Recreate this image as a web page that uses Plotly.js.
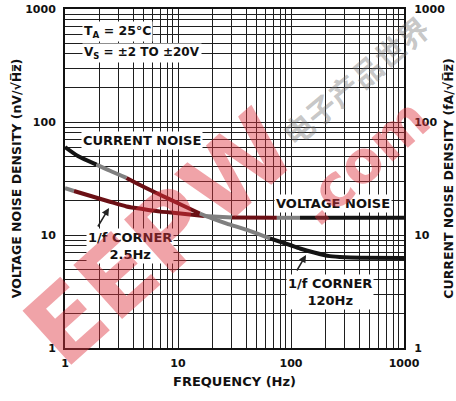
<!DOCTYPE html>
<html><head><meta charset="utf-8">
<script src="https://cdn.plot.ly/plotly-3.0.1.min.js"></script>
<style>html,body{margin:0;padding:0;background:#fff}#chart{width:456px;height:401px}</style>
</head><body><div id="chart"></div>
<script>
// ---- data ----
const voltageFreq  = [1, 1.2, 1.78, 2.5, 3.5, 5, 7, 10, 17, 30, 75, 120, 300, 1000];
const voltageNoise = [26, 24.5, 21.8, 19.7, 17.9, 16.9, 16.1, 15.6, 14.7, 14.3, 14.2, 14.2, 14.2, 14.2]; // nV/√Hz
const currentFreq  = [1, 1.3, 1.9, 2.5, 3.5, 5, 7, 10, 15.6, 20, 27, 43, 65, 98, 120, 160, 220, 300, 430, 1000];
const currentNoise = [60, 50, 42, 37, 32, 26.6, 22.6, 19.1, 15.5, 14.0, 12.6, 10.9, 9.35, 8.16, 7.6, 7.0, 6.5, 6.35, 6.3, 6.25]; // fA/√Hz
const decadeValues = [1, 10, 100, 1000];
const decadeLabels = ['1', '10', '100', '1000'];

// colour bands along each curve (frequency ranges), as seen in the scan
const COL = {black: '#141414', grey: '#808080', red: '#6b1015'};
const voltageBands = [[1, 1.2, 'grey'], [1.2, 17, 'red'], [17, 30, 'grey'], [30, 75, 'red'], [75, 120, 'grey'], [120, 1000, 'black']];
const currentBands = [[1, 1.9, 'black'], [1.9, 3.5, 'grey'], [3.5, 15.6, 'red'], [15.6, 65, 'grey'], [65, 1000, 'black']];

function bandTraces(fx, vy, bands, yaxis, name) {
  return bands.map(([f0, f1, c]) => {
    const xs = [], ys = [];
    fx.forEach((f, k) => { if (f >= f0 && f <= f1) { xs.push(f); ys.push(vy[k]); } });
    return {x: xs, y: ys, type: 'scatter', mode: 'lines', yaxis: yaxis, name: name, showlegend: false,
            line: {color: COL[c], width: 4, shape: 'spline', smoothing: 0.6}, hoverinfo: 'skip'};
  });
}

// grid ticks: every digit in every decade, label only decades
const gridVals = [], gridText = [];
for (let d = 0; d < 3; d++) for (let m = 1; m < 10; m++) {
  const v = m * Math.pow(10, d);
  gridVals.push(v);
  const idx = decadeValues.indexOf(v);
  gridText.push(idx >= 0 ? decadeLabels[idx] : '');
}
gridVals.push(1000); gridText.push('1000');

const F = 'DejaVu Sans, Arial, sans-serif';
const tickFont = {family: F, size: 11, color: '#111', weight: 'bold'};

const traces = [
  ...bandTraces(voltageFreq, voltageNoise, voltageBands, 'y', 'Voltage noise'),
  ...bandTraces(currentFreq, currentNoise, currentBands, 'y2', 'Current noise')
];

const px = x => (x - 65) / 339, py = y => (348 - y) / 339;
const txt = (t, x, y, xa, size) => ({text: t, xref: 'paper', yref: 'paper', x: px(x), y: py(y),
  xanchor: xa || 'left', yanchor: 'middle', showarrow: false, bgcolor: '#fff', borderpad: 1,
  font: {family: F, size: size || 13, color: '#111', weight: 'bold'}});
const mark = (t, x, y, ang, size, color, fam) => ({text: t, xref: 'paper', yref: 'paper', x: px(x), y: py(y),
  xanchor: 'center', yanchor: 'middle', showarrow: false, textangle: ang,
  font: {family: fam || 'DejaVu Sans', size: size, color: color, weight: 'bold'}});

const annotations = [
  // chart text
  txt('T<sub>A</sub> = 25°C', 82, 32, 'left', 12.5),
  txt('V<sub>S</sub> = ±2 TO ±20V', 82, 53, 'left', 12),
  txt('CURRENT NOISE', 81, 140),
  txt('VOLTAGE NOISE', 274, 203),
  txt('1/f CORNER<br>2.5Hz', 130, 246, 'center'),
  txt('1/f CORNER<br>120Hz', 330, 292, 'center'),
  // pointer arrows
  {text: '', xref: 'paper', yref: 'paper', x: px(109), y: py(208), ax: -12, ay: 20, showarrow: true,
   arrowhead: 2, arrowsize: 1, arrowwidth: 1.5, arrowcolor: '#222'},
  {text: '', xref: 'paper', yref: 'paper', x: px(306), y: py(255), ax: -10, ay: 17, showarrow: true,
   arrowhead: 2, arrowsize: 1, arrowwidth: 1.5, arrowcolor: '#222'},
  // watermark of the scanned source (drawn over everything, semi-transparent)
  mark('EEPW', 160, 238, -42, 100, 'rgba(222,50,62,0.45)'),
  mark('.com', 362, 162, -42, 58, 'rgba(222,50,62,0.45)'),
  mark('电子产品世界', 355, 80, -40, 30, 'rgba(110,110,110,0.4)', 'Noto Sans CJK SC')
];

const axisCommon = {type: 'log', range: [0, 3], tickvals: gridVals, ticktext: gridText, showgrid: true,
  gridcolor: '#1e1e1e', gridwidth: 1, zeroline: false, showline: true, linecolor: '#111', linewidth: 2,
  mirror: true, ticks: '', tickfont: tickFont, fixedrange: true, automargin: false};

const layout = {
  width: 456, height: 401,
  margin: {l: 65, r: 52, t: 9, b: 53},
  paper_bgcolor: '#fff', plot_bgcolor: '#fff',
  showlegend: false,
  xaxis: Object.assign({}, axisCommon, {
    title: {text: 'FREQUENCY (Hz)', font: {family: F, size: 13, color: '#111', weight: 'bold'}, standoff: 8},
    ticklabelstandoff: 4}),
  yaxis: Object.assign({}, axisCommon, {
    title: {text: 'VOLTAGE NOISE DENSITY (nV/√H̅z̅)', font: {family: F, size: 12.5, color: '#111', weight: 'bold'}, standoff: 1},
    ticklabelstandoff: 5}),
  yaxis2: Object.assign({}, axisCommon, {overlaying: 'y', side: 'right', showgrid: false,
    title: {text: 'CURRENT NOISE DENSITY (fA/√H̅z̅)', font: {family: F, size: 12.5, color: '#111', weight: 'bold'}, standoff: 6},
    ticklabelstandoff: 6}),
  annotations: annotations
};

Plotly.newPlot('chart', traces, layout, {staticPlot: true, displayModeBar: false});
</script></body></html>
